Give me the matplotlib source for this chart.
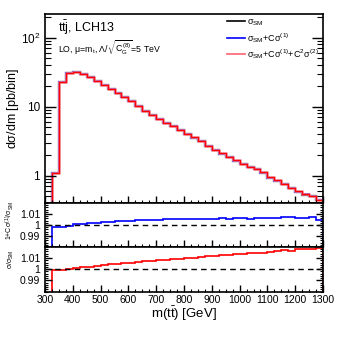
import numpy as np
import matplotlib
matplotlib.use('Agg')
import matplotlib.pyplot as plt
from matplotlib.ticker import MultipleLocator, LogLocator, NullFormatter, FixedLocator, FixedFormatter

plt.rcParams['font.family'] = ['Liberation Sans', 'DejaVu Sans']
plt.rcParams['mathtext.fontset'] = 'custom'
plt.rcParams['mathtext.rm'] = 'Liberation Sans'
plt.rcParams['mathtext.it'] = 'Liberation Sans'
plt.rcParams['mathtext.bf'] = 'Liberation Sans:bold'

# bin edges m(tt) [GeV], 25 GeV bins
edges = np.arange(300, 1301, 25)

# SM cross section per bin [pb/bin]
sigma_sm = [0.0, 1.1, 23.0, 30.8, 31.4, 29.8, 26.9, 23.6, 20.8, 18.2,
            15.7, 13.8, 11.9, 10.2, 8.7, 7.6, 6.6, 5.8, 5.2, 4.56,
            3.99, 3.53, 3.13, 2.68, 2.34, 2.07, 1.84, 1.64, 1.45, 1.31,
            1.23, 1.10, 0.93, 0.84, 0.75, 0.65, 0.58, 0.53, 0.50, 0.44]

# (sigma_SM + C sigma1) / sigma_SM
ratio_lin = [0.0, 0.998, 0.9985, 0.9995, 1.0005, 1.001, 1.0015, 1.002, 1.0025, 1.003,
             1.0033, 1.0036, 1.004, 1.0042, 1.0045, 1.0047, 1.005, 1.0052, 1.0053, 1.0055,
             1.0056, 1.0057, 1.0058, 1.0058, 1.0058, 1.006, 1.0058, 1.006, 1.006, 1.0058,
             1.006, 1.0062, 1.0065, 1.0065, 1.0075, 1.007, 1.0062, 1.0068, 1.0072, 1.005]

# (sigma_SM + C sigma1 + C^2 sigma2) / sigma_SM
ratio_quad = [0.0, 0.999, 0.9995, 1.0003, 1.001, 1.0017, 1.0023, 1.003, 1.0037, 1.0043,
              1.005, 1.0055, 1.006, 1.0066, 1.0071, 1.0076, 1.0081, 1.0086, 1.009, 1.0095,
              1.01, 1.0105, 1.011, 1.0115, 1.0119, 1.0124, 1.0128, 1.0133, 1.0137, 1.0142,
              1.0147, 1.015, 1.0155, 1.016, 1.0172, 1.0168, 1.0178, 1.018, 1.0185, 1.0192]

sigma_sm = np.array(sigma_sm)
ratio_lin = np.array(ratio_lin)
ratio_quad = np.array(ratio_quad)
sigma_lin = sigma_sm * ratio_lin
sigma_quad = sigma_sm * ratio_quad

fig = plt.figure(figsize=(3.59, 3.41), dpi=100)
L, W = 45 / 359, 278 / 359
ax = fig.add_axes([L, 1 - 203 / 341, W, 189 / 341])
ar1 = fig.add_axes([L, 1 - 247 / 341, W, 44 / 341])
ar2 = fig.add_axes([L, 1 - 291.5 / 341, W, 44.5 / 341])

# main panel
ax.stairs(sigma_sm, edges, color='black', lw=1.6)
ax.stairs(sigma_lin, edges, color='blue', lw=1.4)
ax.stairs(sigma_quad, edges, color='#f5a0b0', lw=1.8)
ax.stairs(sigma_quad, edges, color='red', lw=1.0)
ax.set_yscale('log')
ax.set_ylim(0.4, 220)
ax.set_ylabel(r'd$\sigma$/dm [pb/bin]', fontsize=9)
ax.yaxis.set_label_coords(-0.085, 0.5)

# legend
handles = [plt.Line2D([], [], color='black', lw=1.2),
           plt.Line2D([], [], color='blue', lw=1.2),
           plt.Line2D([], [], color='#ff6070', lw=1.2)]
labels = [r'$\sigma_{SM}$', r'$\sigma_{SM}$+C$\sigma^{(1)}$',
          r'$\sigma_{SM}$+C$\sigma^{(1)}$+C$^{2}\sigma^{(2)}$']
ax.legend(handles, labels, loc='upper left', bbox_to_anchor=(0.63, 1.02),
          frameon=False, fontsize=6.5, handlelength=1.9, handletextpad=0.3,
          labelspacing=0.3, borderpad=0.3)

ax.text(0.045, 0.975, r'$\mathrm{t\bar{t}}$j, LCH13', transform=ax.transAxes,
        fontsize=9, va='top', ha='left')
ax.text(0.045, 0.87, r'LO, $\mu$=m$_{t}$, $\Lambda/\sqrt{C_{G}^{(8)}}$=5 TeV',
        transform=ax.transAxes, fontsize=6.3, va='top', ha='left')

# ratio panels
for a, r, col in [(ar1, ratio_lin, 'blue'), (ar2, ratio_quad, 'red')]:
    a.stairs(r, edges, color=col, lw=1.2)
    a.axhline(1.0, color='black', ls=(0, (4, 3)), lw=1.0)
    a.set_ylim(0.98, 1.02)
    a.yaxis.set_major_locator(FixedLocator([0.99, 1.0, 1.01]))
    a.yaxis.set_major_formatter(FixedFormatter(['0.99', '1', '1.01']))
    a.yaxis.set_minor_locator(MultipleLocator(0.002))

ar1.set_ylabel(r'1+C$\sigma^{(1)}$/$\sigma_{SM}$', fontsize=5)
ar2.set_ylabel(r'$\sigma$/$\sigma_{SM}$', fontsize=5)
ar1.yaxis.set_label_coords(-0.105, 0.6)
ar2.yaxis.set_label_coords(-0.105, 0.72)

for a in (ax, ar1, ar2):
    a.set_xlim(300, 1300)
    a.xaxis.set_major_locator(MultipleLocator(100))
    a.xaxis.set_minor_locator(MultipleLocator(25))
    a.tick_params(which='both', direction='in', top=False, right=True, bottom=True)
    a.tick_params(which='major', length=5, width=1.0)
    a.tick_params(which='minor', length=2.5, width=0.8)
    for s in a.spines.values():
        s.set_linewidth(1.2)

ax.yaxis.set_major_locator(FixedLocator([1, 10, 100]))
ax.yaxis.set_major_formatter(FixedFormatter(['1', '10', r'10$^{2}$']))
ax.yaxis.set_minor_locator(LogLocator(base=10, subs=np.arange(2, 10)))
ax.yaxis.set_minor_formatter(NullFormatter())
ax.tick_params(axis='y', which='major', length=8, labelsize=8.5)
ax.tick_params(axis='y', which='minor', length=4)
ax.tick_params(axis='x', labelbottom=False)
ar1.tick_params(axis='x', labelbottom=False)
ar1.tick_params(axis='y', labelsize=7.5)
ar2.tick_params(axis='y', labelsize=7.5)
ar2.tick_params(axis='x', labelsize=7.5, pad=2.5)
ar2.set_xlabel(r'm($\mathrm{t\bar{t}}$) [GeV]', fontsize=9.5, labelpad=0)

fig.savefig('out.png', dpi=100)
